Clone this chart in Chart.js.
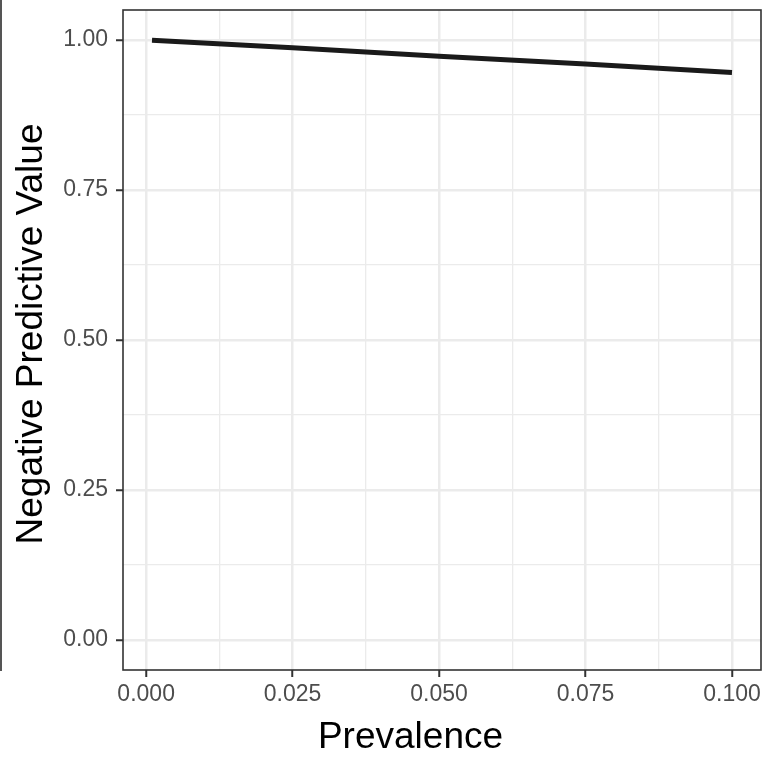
<!DOCTYPE html>
<html>
<head>
<meta charset="utf-8">
<script src="https://cdn.jsdelivr.net/npm/chart.js@4/dist/chart.umd.min.js"></script>
<style>
  html, body { margin: 0; padding: 0; background: #ffffff; }
  #wrap { position: relative; width: 764px; height: 757px; }
  #edge { position: absolute; left: 0; top: 0; width: 2px; height: 671px; background: #555555; }
  canvas { position: absolute; left: 0; top: 0; }
</style>
</head>
<body>
<div id="wrap">
  <canvas id="c" width="764" height="757"></canvas>
  <div id="edge"></div>
</div>
<script>
// Data
const prevalence = [0.001, 0.025, 0.05, 0.075, 0.1];
const npv = [0.9995, 0.987, 0.973, 0.960, 0.946];

// Axis ticks
const xMajorTicks = [0, 0.025, 0.05, 0.075, 0.1];
const xMinorTicks = [0.0125, 0.0375, 0.0625, 0.0875];
const yMajorTicks = [0, 0.25, 0.5, 0.75, 1];
const yMinorTicks = [0.125, 0.375, 0.625, 0.875];
const xTickLabels = ['0.000', '0.025', '0.050', '0.075', '0.100'];
const yTickLabels = ['0.00', '0.25', '0.50', '0.75', '1.00'];

const xTitle = 'Prevalence';
const yTitle = 'Negative Predictive Value';

const FONT = '"Liberation Sans", Arial, Helvetica, sans-serif';

function isMajor(list, v) { return list.some(t => Math.abs(t - v) < 1e-9); }
function labelFor(majors, labels, v) {
  const i = majors.findIndex(t => Math.abs(t - v) < 1e-9);
  return i >= 0 ? labels[i] : '';
}

// ggplot-like expansion (5%)
const xRange = Math.max(...prevalence) - Math.min(...prevalence);
const xMin = Math.min(...prevalence) - 0.05 * xRange;
const xMax = Math.max(...prevalence) + 0.05 * xRange;
const yMin = 0 - 0.05;
const yMax = 1 + 0.05;

const decor = {
  id: 'decor',
  afterDatasetsDraw(chart) {
    const { ctx, chartArea: a } = chart;
    ctx.save();
    ctx.strokeStyle = '#333333';
    ctx.lineWidth = 1.6;
    ctx.strokeRect(a.left, a.top, a.right - a.left, a.bottom - a.top);
    ctx.restore();
  },
  afterDraw(chart) {
    const { ctx, chartArea: a } = chart;
    ctx.save();
    ctx.fillStyle = '#000000';
    ctx.font = '37px ' + FONT;
    ctx.textAlign = 'center';
    ctx.textBaseline = 'alphabetic';
    ctx.fillText(xTitle, 410.5, 748);
    ctx.translate(42, (a.top + a.bottom) / 2 - 6);
    ctx.rotate(-Math.PI / 2);
    ctx.fillText(yTitle, 0, 0);
    ctx.restore();
  }
};

new Chart(document.getElementById('c'), {
  type: 'line',
  data: {
    datasets: [{
      data: prevalence.map((p, i) => ({ x: p, y: npv[i] })),
      borderColor: '#1a1a1a',
      borderWidth: 5,
      borderCapStyle: 'butt',
      pointRadius: 0,
      tension: 0,
      fill: false
    }]
  },
  options: {
    responsive: false,
    devicePixelRatio: 1,
    animation: false,
    layout: { padding: { top: 10, right: 3, left: 0, bottom: 0 } },
    plugins: { legend: { display: false }, tooltip: { enabled: false } },
    scales: {
      x: {
        type: 'linear',
        min: xMin,
        max: xMax,
        afterBuildTicks(scale) {
          scale.ticks = [...xMajorTicks, ...xMinorTicks].sort((a, b) => a - b).map(v => ({ value: v }));
        },
        afterFit(scale) { scale.height = 87; scale.paddingLeft = 0; scale.paddingRight = 0; },
        border: { display: false },
        grid: {
          color: '#ebebeb',
          lineWidth: c => isMajor(xMajorTicks, c.tick.value) ? 2.5 : 1.3,
          tickLength: 7,
          tickColor: c => isMajor(xMajorTicks, c.tick.value) ? '#333333' : 'rgba(0,0,0,0)',
          tickWidth: 2
        },
        ticks: {
          autoSkip: false,
          maxRotation: 0,
          minRotation: 0,
          padding: 4,
          color: '#4d4d4d',
          font: { family: FONT, size: 23 },
          callback: v => labelFor(xMajorTicks, xTickLabels, v)
        }
      },
      y: {
        type: 'linear',
        min: yMin,
        max: yMax,
        afterBuildTicks(scale) {
          scale.ticks = [...yMajorTicks, ...yMinorTicks].sort((a, b) => a - b).map(v => ({ value: v }));
        },
        afterFit(scale) { scale.width = 123; scale.paddingTop = 0; scale.paddingBottom = 0; },
        border: { display: false },
        grid: {
          color: '#ebebeb',
          lineWidth: c => isMajor(yMajorTicks, c.tick.value) ? 2.5 : 1.3,
          tickLength: 7,
          tickColor: c => isMajor(yMajorTicks, c.tick.value) ? '#333333' : 'rgba(0,0,0,0)',
          tickWidth: 2
        },
        ticks: {
          autoSkip: false,
          padding: 8,
          color: '#4d4d4d',
          font: { family: FONT, size: 23 },
          callback: v => labelFor(yMajorTicks, yTickLabels, v)
        }
      }
    }
  },
  plugins: [decor]
});
</script>
</body>
</html>
